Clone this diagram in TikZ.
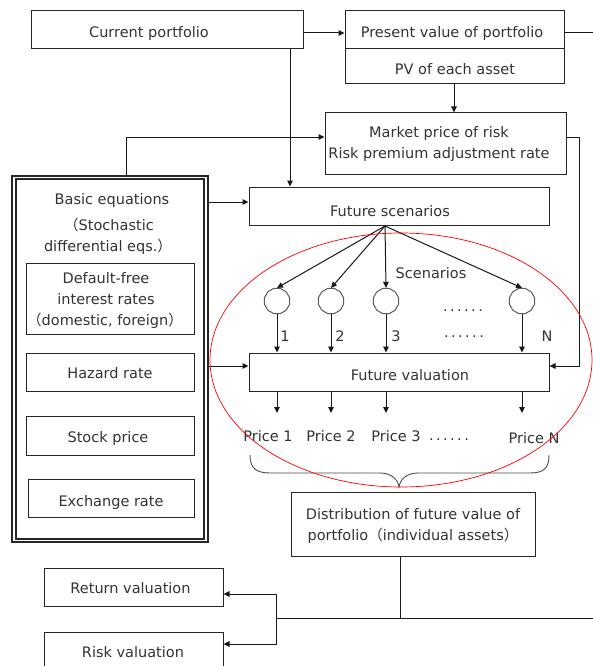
\documentclass[tikz,border=0pt]{standalone}
\usepackage{fontspec}
\setmainfont{DejaVu Sans}
\newfontfamily\cjk{Noto Sans CJK JP}
\usetikzlibrary{arrows.meta,shapes.geometric}

% full-width parentheses
\newcommand{\flp}{{\cjk （}}
\newcommand{\frp}{{\cjk ）}}

\begin{document}
\begin{tikzpicture}[x=1pt,y=-1pt,
  box/.style={draw=black!85, line width=1pt, rectangle, inner sep=0pt},
  txt/.style={anchor=base, inner sep=0pt, text=black!80, font=\fontsize{14.5}{21}\selectfont},
  conn/.style={draw=black!90, line width=1pt},
  arr/.style={conn, -{Triangle[length=6pt,width=5.5pt]}},
  scen/.style={draw=black!65, line width=1pt, regular polygon, regular polygon sides=12, minimum size=26pt, inner sep=0pt},
  brace/.style={draw=black!70, line width=0.9pt},
  ring/.style={draw=red, line width=0.7pt}
]
\useasboundingbox (0,0) rectangle (593,666);
\clip (0,0) rectangle (593,666);

% ---------- top row ----------
\node[box, minimum width=272pt, minimum height=38pt] (cur) at (167,30) {};
\node[txt] (curT) at (149,38) {Current portfolio};

\node[box, minimum width=219pt, minimum height=38pt] (pvtop) at (454.5,30) {};
\node[box, minimum width=219pt, minimum height=35pt] (pvbot) at (454.5,66.5) {};
\node[txt] (pvT1) at (452,38) {Present value of portfolio};
\node[txt] (pvT2) at (455,75) {PV of each asset};

\node[box, minimum width=241pt, minimum height=61pt] (mk) at (445.5,143.5) {};
\node[txt] (mkT1) at (439,137.5) {Market price of risk};
\node[txt] (mkT2) at (439,158) {Risk premium adjustment rate};

% ---------- basic equations (double frame) ----------
\node[box, line width=1.2pt, minimum width=196pt, minimum height=366pt] (bo) at (110,359) {};
\node[box, line width=1.2pt, minimum width=188pt, minimum height=360pt] (bi) at (110,359) {};
\node[txt] (bT1) at (112,204) {Basic equations};
\node[txt] (bT2) at (109,230) {\flp Stochastic};
\node[txt] (bT3) at (108,251) {differential eqs.\frp};

\node[box, minimum width=168pt, minimum height=71pt] (dfr) at (110,298.5) {};
\node[txt] (dT1) at (106,283) {Default-free};
\node[txt] (dT2) at (106,304) {interest rates};
\node[txt] (dT3) at (105,325) {\flp domestic, foreign\frp};

\node[box, minimum width=168pt, minimum height=38pt] (haz) at (110,372) {};
\node[txt] (hT) at (110,378) {Hazard rate};
\node[box, minimum width=168pt, minimum height=39pt] (stk) at (110,435.5) {};
\node[txt] (sT) at (108,442) {Stock price};
\node[box, minimum width=166pt, minimum height=38pt] (exr) at (111,498) {};
\node[txt] (eT) at (111,506) {Exchange rate};

% ---------- scenarios ----------
\node[box, minimum width=300pt, minimum height=38pt] (fs) at (399,206) {};
\node[txt] (fsT) at (390,216) {Future scenarios};
\coordinate (fo) at (385,226);

\node[scen] (c1) at (277,301) {};
\node[scen] (c2) at (331,301) {};
\node[scen] (c3) at (386,301) {};
\node[scen] (cN) at (522,301) {};
\node[txt] (scT) at (431,278) {Scenarios};
\node[txt] (dots1) at (463,311) {.\,.\,.\,.\,.\,.};
\node[txt] (dots2) at (464,337) {.\,.\,.\,.\,.\,.};

\node[box, minimum width=300pt, minimum height=38pt] (fv) at (399,372) {};
\node[txt] (fvT) at (410,380) {Future valuation};

\node[txt] (l1) at (285,341) {1};
\node[txt] (l2) at (340,341) {2};
\node[txt] (l3) at (396,341) {3};
\node[txt] (lN) at (547,341) {N};

\node[txt] (pr1) at (268,441) {Price 1};
\node[txt] (pr2) at (331,441) {Price 2};
\node[txt] (pr3) at (396,441) {Price 3};
\node[txt] (prd) at (449,440) {.\,.\,.\,.\,.\,.};
\node[txt] (prN) at (534,443) {Price N};

% ---------- results ----------
\node[box, minimum width=244pt, minimum height=64pt] (dist) at (413,524) {};
\node[txt] (dsT1) at (413,519) {Distribution of future value of};
\node[txt] (dsT2) at (413,540) {portfolio\flp individual assets\frp};

\node[box, minimum width=179pt, minimum height=38pt] (ret) at (133.5,587) {};
\node[txt] (rT) at (130.5,593) {Return valuation};
\node[box, minimum width=179pt, minimum height=38pt] (risk) at (133.5,651) {};
\node[txt] (kT) at (133,657) {Risk valuation};

% ---------- connectors ----------
\coordinate (pvout) at (593,33);
\draw[arr] (cur.east |- 0,33) -- (pvtop.west |- 0,33);
\draw[conn] (pvtop.east |- pvout) -- (pvout);
\draw[arr] (pvbot.south -| 454,0) -- (mk.north -| 454,0);
\draw[arr] (cur.south -| 290,0) -- (fs.north -| 290,0);
\draw[arr] (bo.north -| 126,0) |- (mk.west |- 0,137);
\draw[arr] (bo.east |- 0,202) -- (fs.west |- 0,202);
\draw[arr] (bo.east |- 0,366) -- (fv.west |- 0,366);
\coordinate (mkr) at (579,137);
\coordinate (fvr) at (579,366);
\draw[arr] (mk.east |- mkr) -- (mkr) -- (fvr) -- (fv.east |- fvr);

\foreach \c in {c1,c2,c3,cN}{
  \draw[arr] (fo) -- (\c.north);
  \draw[arr] (\c.south) -- (\c |- fv.north);
  \draw[arr] (\c |- fv.south) -- (\c |- 0,413);
}

% brace gathering the prices
\coordinate (btip) at (399,487);
\draw[brace] (250,455) .. controls (250,468) and (256,473) .. (270,473)
  -- (380,473) .. controls (392,473) and (398,480) .. (btip)
  .. controls (400,480) and (406,473) .. (418,473)
  -- (530,473) .. controls (544,473) and (549,468) .. (549,455);

\coordinate (split) at (400,618);
\coordinate (branch) at (276,618);
\coordinate (rout) at (593,618);
\draw[conn] (dist.south -| split) -- (split);
\draw[conn] (branch) -- (rout);
\draw[arr] (branch) |- (ret.east |- 0,594);
\draw[arr] (branch) |- (risk.east |- 0,644);

% highlighted region
\draw[ring] (401,360) ellipse [x radius=191pt, y radius=127pt];
\end{tikzpicture}
\end{document}
